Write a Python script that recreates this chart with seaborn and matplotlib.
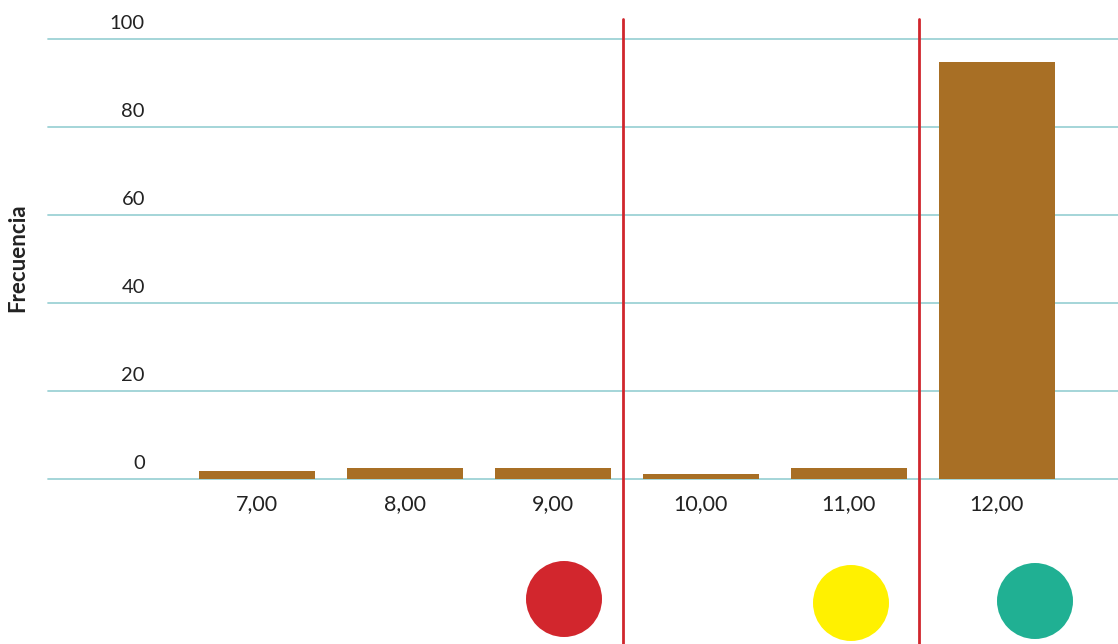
import matplotlib
matplotlib.use("Agg")
import matplotlib.pyplot as plt
import seaborn as sns
import pandas as pd
from matplotlib.patches import Ellipse
import matplotlib.transforms as mtransforms

categories = ["7,00", "8,00", "9,00", "10,00", "11,00", "12,00"]
frecuencia = [1.8, 2.5, 2.5, 1.1, 2.5, 94.7]
y_ticks = [0, 20, 40, 60, 80, 100]
y_tick_labels = ["0", "20", "40", "60", "80", "100"]
separators_after = ["9,00", "11,00"]
dot_colors = ["#d2262d", "#fff100", "#20b093"]

sns.set_theme(style="white")
plt.rcParams["font.family"] = ["Lato", "DejaVu Sans"]

W, H = 1118, 644
fig = plt.figure(figsize=(W / 100, H / 100), dpi=100)
ax = fig.add_axes([48 / W, (H - 479) / H, 1 - 48 / W, (479 - 19) / H])

df = pd.DataFrame({"cat": categories, "freq": frecuencia})
sns.barplot(data=df, x="cat", y="freq", color="#a86f25", saturation=1,
            width=0.784, ax=ax, zorder=2, linewidth=0, edgecolor="none")

ax.set_xlim(-1.412, 5.818)
ax.set_ylim(0, 104.5)
ax.set_yticks(y_ticks)
ax.set_yticklabels([])
ax.tick_params(axis="y", length=0)
for t in y_ticks:
    ax.axhline(t, color="#9dd2d6", lw=1.3, zorder=1, clip_on=False)

# y tick labels above gridlines, right aligned
off = mtransforms.offset_copy(ax.transData, fig=fig, x=0, y=5, units="points")
for t, lab in zip(y_ticks, y_tick_labels):
    ax.text(-0.757, t, lab, transform=mtransforms.blended_transform_factory(ax.transData, off),
            ha="right", va="bottom", fontsize=14.5, color="#222222")

ax.set_xlabel("")
ax.set_ylabel("")
ax.tick_params(axis="x", length=0, pad=11, labelsize=15.5, labelcolor="#222222")
for s in ax.spines.values():
    s.set_visible(False)

# red separators
bot = -(H - 479) / (479 - 19)
for c in separators_after:
    i = categories.index(c)
    ax.axvline(i + 0.47, ymin=bot, ymax=1.0, color="#d0262d", lw=2, clip_on=False, zorder=3)

fig.text(18 / W, 1 - 258 / H, "Frecuencia", rotation=90, ha="center", va="center",
         fontsize=16, fontweight="bold", color="#222222")

# colored dots
centers = [(564, 599), (851, 603), (1035, 601)]
for (cx, cy), col in zip(centers, dot_colors):
    fig.add_artist(Ellipse((cx / W, 1 - cy / H), 76 / W, 76 / H,
                           transform=fig.transFigure, color=col, lw=0))

fig.savefig("out.png", dpi=100)
